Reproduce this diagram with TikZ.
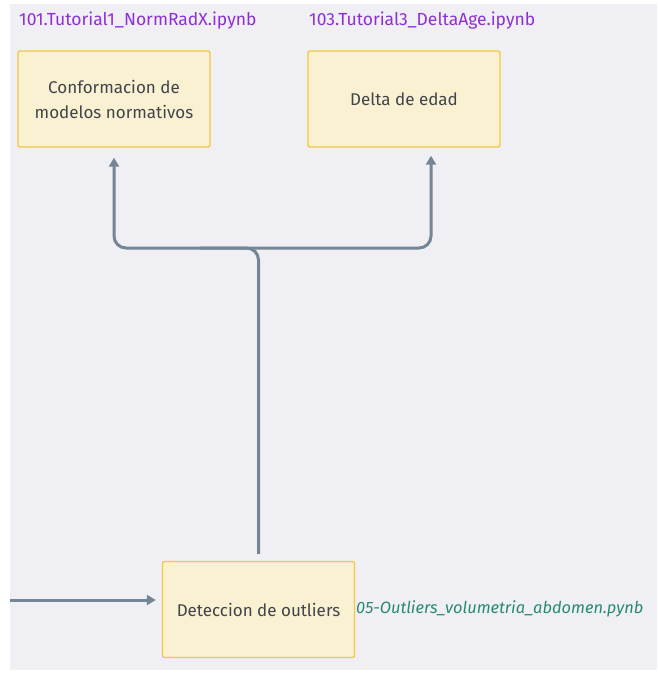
\documentclass[tikz,border=0pt]{standalone}
\usepackage{fontspec}
\setmainfont{Fira Sans}
\usetikzlibrary{arrows.meta}
\definecolor{fundo}{HTML}{EFEFF4}
\definecolor{creme}{HTML}{FAF0D2}
\definecolor{borda}{HTML}{F5C842}
\definecolor{texto}{HTML}{3F454B}
\definecolor{linha}{HTML}{748594}
\definecolor{roxo}{HTML}{8E2FD6}
\definecolor{verde}{HTML}{2A8A70}
\begin{document}
\begin{tikzpicture}[x=1pt, y=-1pt,
    caixa/.style={rectangle, rounded corners=2pt, draw=borda, fill=creme, line width=1.4pt,
        minimum width=192pt, minimum height=96pt, text=texto, align=center,
        font=\fontsize{17}{25}\selectfont},
    arquivo/.style={anchor=west, inner sep=0pt, font=\fontsize{17.5}{20}\selectfont},
    aresta/.style={draw=linha, line width=3pt, rounded corners=12pt,
        -{Triangle[length=9pt, width=10pt]}}]
            %fundo
            \useasboundingbox (0, 0) rectangle (657, 673);
            \fill[white] (0, 0) rectangle (657, 673);
            \fill[fundo] (10, 4) rectangle (657, 670);

            %caixas
            \draw (114, 99) node[caixa](a1){Conformacion de\\modelos normativos}
            (404, 99) node[caixa](a2){Delta de edad}
            (258.5, 609.5) node[caixa](a3){Deteccion de outliers};

            %arquivos
            \draw (19, 21) node[arquivo, text=roxo](n1){101.Tutorial1\_NormRadX.ipynb}
            (309, 21) node[arquivo, text=roxo](n2){103.Tutorial3\_DeltaAge.ipynb}
            (356, 609) node[arquivo, text=verde, font=\fontsize{16.4}{18}\selectfont\itshape](n3){05-Outliers\_volumetria\_abdomen.pynb};

            %arestas
            \coordinate (j) at (200, 248);
            \coordinate (entrada) at (10, 600);
            \draw[aresta, shorten <=7pt, shorten >=10pt] (a3.north) -- (a3.north |- j) -- (a1.south |- j) -- (a1.south);
            \draw[aresta, shorten >=8pt] (j) -- ([xshift=27pt]a2.south |- j) -- ([xshift=27pt]a2.south);
            \draw[aresta, shorten >=6pt] (entrada) -- (a3.west |- entrada);
        \end{tikzpicture}
\end{document}
